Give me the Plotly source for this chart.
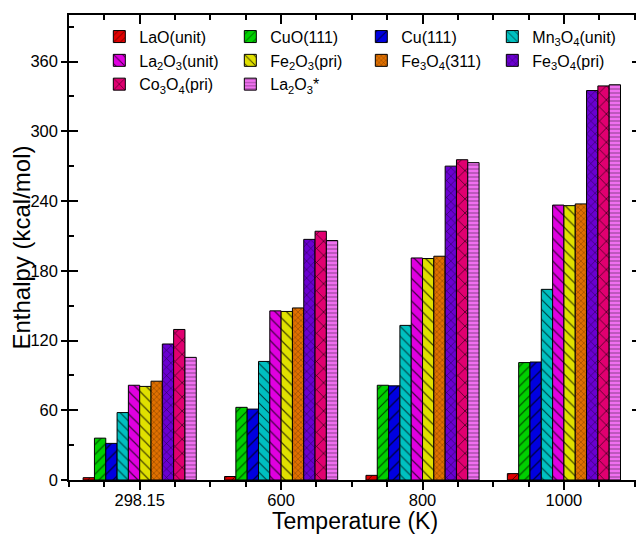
import plotly.graph_objects as go

# ---- data ----
temps = ["298.15", "600", "800", "1000"]
x_pos = [0, 1, 2, 3]

LaO_unit = [2.0, 3.0, 4.0, 5.5]
CuO_111 = [36.0, 62.5, 81.5, 101.0]
Cu_111 = [31.5, 61.0, 81.0, 101.5]
Mn3O4_unit = [58.0, 102.0, 133.0, 164.0]
La2O3_unit = [81.5, 145.5, 191.0, 236.5]
Fe2O3_pri = [80.5, 145.0, 190.5, 236.0]
Fe3O4_311 = [85.0, 148.0, 192.5, 237.5]
Fe3O4_pri = [117.0, 207.0, 270.0, 335.0]
Co3O4_pri = [129.5, 214.0, 275.5, 339.0]
La2O3_star = [105.5, 206.0, 273.0, 340.0]

names = [
    "LaO(unit)", "CuO(111)", "Cu(111)", "Mn<sub>3</sub>O<sub>4</sub>(unit)",
    "La<sub>2</sub>O<sub>3</sub>(unit)", "Fe<sub>2</sub>O<sub>3</sub>(pri)",
    "Fe<sub>3</sub>O<sub>4</sub>(311)", "Fe<sub>3</sub>O<sub>4</sub>(pri)",
    "Co<sub>3</sub>O<sub>4</sub>(pri)", "La<sub>2</sub>O<sub>3</sub>*",
]
values = [LaO_unit, CuO_111, Cu_111, Mn3O4_unit, La2O3_unit, Fe2O3_pri,
          Fe3O4_311, Fe3O4_pri, Co3O4_pri, La2O3_star]

# ---- styles ----
colors = ["#E00000", "#00D000", "#0000E0", "#00C0C0", "#E000E0", "#E0E000",
          "#E07000", "#6A00D0", "#E00070", "#F070F0"]
shapes = ["/", "/", "/", "\\", "\\", "\\", "x", "x", "x", "-"]
sizes = [6, 7, 9, 7, 8, 8, 4, 6, 10, 4]

fig = go.Figure()
for nm, vals, col, shp, sz in zip(names, values, colors, shapes, sizes):
    fig.add_trace(go.Bar(
        x=x_pos, y=vals, name=nm,
        marker=dict(color=col, line=dict(color="black", width=1),
                    pattern=dict(shape=shp, size=sz, solidity=0.15,
                                 fgcolor="black", fgopacity=0.7)),
    ))

# dummy traces to anchor the tick-only overlay axes
fig.add_trace(go.Scatter(x=[None], y=[None], xaxis="x2", yaxis="y2",
                         showlegend=False, hoverinfo="skip"))
fig.add_trace(go.Scatter(x=[None], y=[None], xaxis="x2", yaxis="y3",
                         showlegend=False, hoverinfo="skip"))

font_main = "Liberation Sans, Arial, sans-serif"
xr = [-0.5, 3.545]
yr = [0, 400]
tk = dict(tickwidth=1.5, tickcolor="black")

# page body has an 8px default margin, so the figure is 636x526
fig.update_layout(
    width=636, height=526,
    margin=dict(l=61, r=3, t=7, b=54),
    paper_bgcolor="white", plot_bgcolor="white",
    font=dict(family=font_main, size=16.5, color="black"),
    barmode="group", bargap=0.2, bargroupgap=0,
    legend=dict(orientation="h", x=0.053, y=0.99, xanchor="left", yanchor="top",
                entrywidth=86, entrywidthmode="pixels",
                font=dict(size=16), bgcolor="rgba(0,0,0,0)", traceorder="normal"),
    xaxis=dict(range=xr, tickvals=x_pos, ticktext=temps, automargin=False,
               ticks="outside", ticklen=8, ticklabelstandoff=-4, **tk,
               minor=dict(tick0=0, dtick=0.25, ticks="outside", ticklen=5, **tk),
               showline=True, linewidth=1.5, linecolor="black", mirror=True,
               showgrid=False, zeroline=False,
               title=dict(text="Temperature (K)", font=dict(size=23), standoff=3)),
    xaxis2=dict(range=xr, overlaying="x", side="top", anchor="y2", automargin=False,
                tickvals=x_pos, ticks="inside", ticklen=9, **tk,
                minor=dict(tick0=0, dtick=0.25, ticks="inside", ticklen=5, **tk),
                showticklabels=False, showline=False, showgrid=False,
                zeroline=False),
    yaxis=dict(range=yr, tick0=0, dtick=60, ticks="outside", ticklen=6, **tk,
               automargin=False,
               showline=True, linewidth=1.5, linecolor="black", mirror=True,
               showgrid=False, zeroline=False,
               title=dict(text="Enthalpy (kcal/mol)", font=dict(size=24), standoff=1)),
    yaxis2=dict(range=yr, overlaying="y", side="left", anchor="x2", automargin=False,
                tick0=0, dtick=60, ticks="inside", ticklen=9, **tk,
                minor=dict(tick0=0, dtick=30, ticks="inside", ticklen=5, **tk),
                showticklabels=False, showline=False, showgrid=False,
                zeroline=False),
    yaxis3=dict(range=yr, overlaying="y", side="right", anchor="x2", automargin=False,
                tick0=0, dtick=60, ticks="inside", ticklen=9, **tk,
                minor=dict(tick0=0, dtick=30, ticks="inside", ticklen=5, **tk),
                showticklabels=False, showline=False, showgrid=False,
                zeroline=False),
)

fig.write_html("out.html")
